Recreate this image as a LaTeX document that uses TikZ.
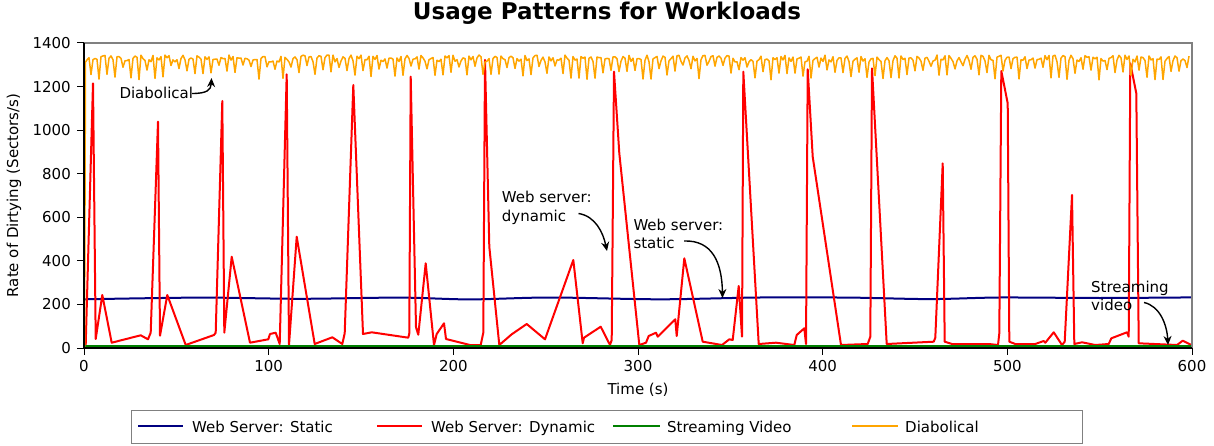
\documentclass[tikz,border=0pt]{standalone}
\usepackage{fontspec}
\setmainfont{DejaVu Sans}
\usetikzlibrary{arrows.meta}
\definecolor{statc}{RGB}{0,0,128}
\definecolor{dync}{RGB}{255,0,0}
\definecolor{strc}{RGB}{0,128,0}
\definecolor{diac}{RGB}{255,165,0}
\definecolor{framegray}{RGB}{128,128,128}
\begin{document}
\begin{tikzpicture}[x=1pt,y=-1pt,
  lbl/.style={font=\fontsize{15}{18.5}\selectfont, inner sep=0pt},
  note/.style={lbl, align=left, anchor=north west},
  staticline/.style={statc, line width=2pt, line join=round},
  dynline/.style={dync, line width=2pt, line join=round},
  strline/.style={strc, line width=2.5pt},
  diabline/.style={diac, line width=1.5pt, line join=round},
  pointer/.style={black, line width=1.4pt, -{Stealth[length=9pt,width=8pt]}},
  tick/.style={black, line width=1pt}]
\useasboundingbox (0,0) rectangle (1214,446);

% title
\node[font=\fontsize{23}{27}\selectfont\bfseries, inner sep=0pt] (title) at (607,13) {Usage Patterns for Workloads};

% axis labels
\node[lbl, rotate=90] (ylab) at (14,195.5) {Rate of Dirtying (Sectors/s)};
\node[lbl] (xlab) at (638,390) {Time (s)};

% data
\begin{scope}
\clip (84,43) rectangle (1192,348);
\draw[staticline] plot[smooth] coordinates {(84,299.3) (200,297.6) (300,298.8) (400,297.6) (470,299.4) (550,297.5) (660,299.3) (760,297.5) (850,297.6) (930,299.1) (1000,297.5) (1100,298) (1192,297.4)};
\draw[dynline] (85.7,345) -- (93,83.3) -- (95.7,339) -- (102.3,295) -- (111.7,342.7) -- (140.7,335.3) -- (148,339.3) -- (150.7,332.7) -- (158,121.7) -- (160,335.7) -- (167.3,295) -- (185.7,345) -- (214,335) -- (215.7,332.7) -- (222.3,101) -- (224.3,332.7) -- (231.7,256.7) -- (250,342.7) -- (268.3,339.3) -- (270,334) -- (275.7,332.7) -- (279.7,344) -- (286.7,74.3) -- (289,345) -- (296.7,236.7) -- (314.7,344) -- (332.3,337.3) -- (342.3,344) -- (344.7,333.3) -- (353.3,85) -- (363,334) -- (371.7,332.3) -- (408.3,337.7) -- (409.3,333.3) -- (410.7,76.7) -- (416,327.3) -- (418.3,334.7) -- (425.7,263.3) -- (434,345) -- (436.7,334) -- (444,323.3) -- (446,339) -- (470,345) -- (480.7,345) -- (483.3,332.7) -- (485,60) -- (489.3,246.7) -- (499.3,345) -- (511.7,334.3) -- (526.7,324) -- (545,339.3) -- (573.3,260) -- (582.7,343.3) -- (584,337.7) -- (600.7,326.7) -- (610,345) -- (611.7,340) -- (614,71.7) -- (619.3,153.3) -- (639.3,345) -- (646,342.7) -- (648.7,336) -- (656,332.7) -- (657.7,336.7) -- (675.3,319.3) -- (676.7,336) -- (684.3,258.3) -- (702.7,341.7) -- (722,345) -- (729.3,339.3) -- (732.7,340) -- (738.7,286) -- (742,336.7) -- (743.3,71.7) -- (758.7,344) -- (776,342.7) -- (794.3,345) -- (796.7,335) -- (804.3,328.3) -- (806,344) -- (807.7,69.3) -- (812.7,156.7) -- (841,345) -- (867.7,344) -- (870.3,336.7) -- (872,68.3) -- (886.7,344) -- (933.7,341.7) -- (935.3,337.7) -- (942.7,163.3) -- (944.7,341.7) -- (952,344) -- (988.7,344) -- (998,345) -- (999.3,333.3) -- (1001.3,71) -- (1007.7,103.3) -- (1009.3,341.7) -- (1015.3,344) -- (1035.3,344) -- (1043.7,341) -- (1045.3,342.7) -- (1053.7,332.3) -- (1062,345) -- (1064.7,341.7) -- (1072,195) -- (1074.3,344) -- (1082,342.3) -- (1095.3,345) -- (1108.7,344) -- (1111.3,338.3) -- (1127,332.3) -- (1128.7,336.7) -- (1130.3,63.3) -- (1136.3,93.3) -- (1138.7,343.3) -- (1177,345) -- (1182.7,340.7) -- (1191.3,345);
\draw[strline] (84,346.5) -- (1192,346.5);
\pgfmathsetseed{11}
\draw[diabline] (84.5,348) -- (85.5,62) \foreach \i in {0,...,551}{ -- ({87+2*\i},{ifthenelse(mod(\i,4)==2,65+15*rnd,55+7*rnd)}) };
\end{scope}

% frame
\draw[framegray, line width=1.2pt] (84,43) -- (1192,43) -- (1192,348);
\draw[black, line width=1.2pt] (84,43) -- (84,348) -- (1192,348);

% y ticks
\foreach \v in {0,200,...,1400}{
  \pgfmathsetmacro{\yy}{348-\v/1400*305}
  \draw[tick] (77,\yy) -- (84,\yy);
  \node[lbl, anchor=east] (yt\v) at (71,\yy) {\v};
}
% x ticks
\foreach \v in {0,100,...,600}{
  \pgfmathsetmacro{\xx}{84+\v/600*1108}
  \draw[tick] (\xx,348) -- (\xx,355);
  \node[lbl, anchor=north] (xt\v) at (\xx,360) {\v};
}

% annotations
\node[lbl, anchor=base west] (ndiab) at (119.3,99) {Diabolical};
\coordinate (sdiab) at (192,93.5);
\coordinate (tdiab) at (211.5,78);
\draw[pointer] (sdiab) .. controls (207,93.5) and (211,90) .. (tdiab);

\node[note] (ndyn) at (501.7,191) {Web server:\\dynamic};
\coordinate (sdyn) at (578.5,213.5);
\coordinate (tdyn) at (607,251);
\draw[pointer] (sdyn) .. controls (595,216) and (603,232) .. (tdyn);

\node[note] (nstat) at (633.3,218.6) {Web server:\\static};
\coordinate (sstat) at (684,241);
\coordinate (tstat) at (722.5,298);
\draw[pointer] (sstat) .. controls (712,240) and (722,262) .. (tstat);

\node[note] (nstr) at (1091,280.7) {Streaming\\video};
\coordinate (sstr) at (1144,302.5);
\coordinate (tstr) at (1168,345);
\draw[pointer] (sstr) .. controls (1160,306) and (1167,325) .. (tstr);

% legend
\node[draw=framegray, line width=1pt, minimum width=951pt, minimum height=33pt, inner sep=0pt, anchor=north west] (legend) at (130.8,409.5) {};
\draw[staticline] (138,426) -- (183,426);
\node[lbl, anchor=base west] (lstat) at (192,432.7) {Web Server: Static};
\draw[dynline] (377,426) -- (422,426);
\node[lbl, anchor=base west] (ldyn) at (431,432.7) {Web Server: Dynamic};
\draw[strline, line width=2pt] (613,426) -- (660,426);
\node[lbl, anchor=base west] (lstr) at (667,432.7) {Streaming Video};
\draw[diabline, line width=2pt] (852,426) -- (898,426);
\node[lbl, anchor=base west] (ldiab) at (905,432.7) {Diabolical};
\end{tikzpicture}
\end{document}
